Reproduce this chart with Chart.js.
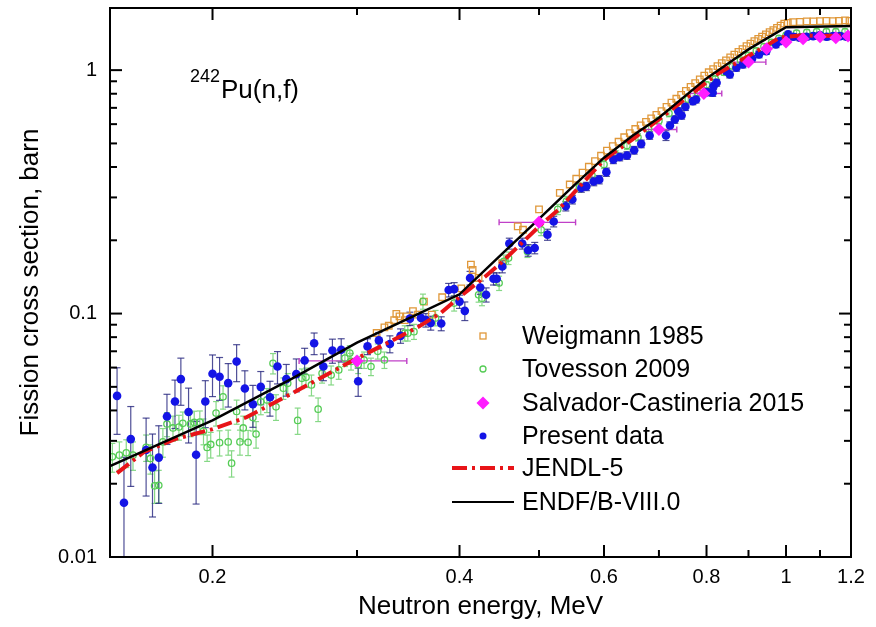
<!DOCTYPE html>
<html>
<head>
<meta charset="utf-8">
<script src="https://cdn.jsdelivr.net/npm/chart.js@4.4.1/dist/chart.umd.min.js"></script>
<style>
  html, body { margin: 0; padding: 0; background: #fff; }
  #wrap { width: 876px; height: 627px; }
</style>
</head>
<body>
<div id="wrap"><canvas id="c" width="876" height="627"></canvas></div>
<script>
// ---- data (energy in MeV, cross section in barn) ----

// Present data (blue dots) with +/- errors
var presE = [
  0.153, 0.156, 0.159, 0.166, 0.169, 0.172, 0.176, 0.180, 0.183, 0.187,
  0.191, 0.196, 0.200, 0.204, 0.209, 0.214, 0.219, 0.224, 0.229, 0.235,
  0.240, 0.246, 0.253, 0.259, 0.266, 0.273, 0.280, 0.287, 0.301, 0.309,
  0.319, 0.329, 0.339, 0.348, 0.359, 0.364, 0.369, 0.380, 0.388, 0.394,
  0.400, 0.406, 0.412, 0.424, 0.431, 0.440, 0.444, 0.451, 0.460, 0.477,
  0.485, 0.494, 0.512, 0.521, 0.539, 0.549, 0.563, 0.571, 0.583, 0.592,
  0.604, 0.616, 0.627, 0.640, 0.653, 0.666, 0.682, 0.714, 0.722, 0.732,
  0.739, 0.746, 0.754, 0.770, 0.777, 0.801, 0.814, 0.816, 0.823, 0.846,
  0.854, 0.870, 0.886, 0.909, 0.927, 0.946, 0.972, 0.984, 1.006, 1.021,
  1.040, 1.059, 1.079, 1.100, 1.121, 1.142, 1.164, 1.186
];
var presS = [
  0.0459, 0.0167, 0.0305, 0.0275, 0.0233, 0.0256, 0.0378, 0.0435, 0.0538, 0.0394,
  0.0263, 0.0435, 0.0566, 0.055, 0.0518, 0.0635, 0.0492, 0.0424, 0.05, 0.0453,
  0.0606, 0.0538, 0.0564, 0.0642, 0.0755, 0.0606, 0.0705, 0.071, 0.0527, 0.0733,
  0.0776, 0.075, 0.081, 0.0953, 0.096, 0.094, 0.0915, 0.091, 0.125, 0.126,
  0.112, 0.1026, 0.14, 0.128, 0.1195, 0.139, 0.139, 0.156, 0.194, 0.194,
  0.182, 0.186, 0.211, 0.239, 0.276, 0.294, 0.328, 0.333, 0.349, 0.355,
  0.381, 0.429, 0.44, 0.446, 0.469, 0.498, 0.539, 0.539, 0.592, 0.627,
  0.678, 0.651, 0.707, 0.746, 0.758, 0.812, 0.807, 0.859, 0.888, 0.99,
  0.96, 1.023, 1.055, 1.114, 1.16, 1.197, 1.276, 1.316, 1.402, 1.372,
  1.36, 1.372, 1.38, 1.39, 1.372, 1.38, 1.38, 1.372
];
var presErr = [
  0.014, 0.009, 0.011, 0.0097, 0.0087, 0.009, 0.0088, 0.0098, 0.0118, 0.01,
  0.0098, 0.0095, 0.011, 0.011, 0.0105, 0.011, 0.009, 0.0083, 0.0078, 0.0074,
  0.0092, 0.008, 0.0087, 0.0078, 0.0077, 0.0076, 0.008, 0.0078, 0.007, 0.0055,
  0.006, 0.006, 0.0055, 0.006, 0.006, 0.006, 0.006, 0.006, 0.008, 0.008,
  0.007, 0.009, 0.009, 0.008, 0.008, 0.008, 0.008, 0.009, 0.01, 0.01,
  0.01, 0.01, 0.011, 0.012, 0.012, 0.012, 0.013, 0.013, 0.014, 0.014,
  0.015, 0.016, 0.016, 0.016, 0.017, 0.018, 0.019, 0.025, 0.021, 0.022,
  0.023, 0.022, 0.024, 0.025, 0.025, 0.027, 0.027, 0.028, 0.029, 0.032,
  0.031, 0.033, 0.034, 0.035, 0.036, 0.037, 0.039, 0.04, 0.042, 0.041,
  0.041, 0.041, 0.041, 0.041, 0.041, 0.041, 0.041, 0.041
];

// Tovesson 2009 (green open circles) with +/- errors
var tovE = [
  0.151, 0.154, 0.157, 0.160, 0.166, 0.168, 0.170, 0.172, 0.174, 0.176,
  0.179, 0.182, 0.184, 0.188, 0.190, 0.193, 0.195, 0.197, 0.199, 0.202,
  0.204, 0.206, 0.209, 0.211, 0.214, 0.216, 0.218, 0.221, 0.224, 0.226,
  0.229, 0.233, 0.237, 0.239, 0.244, 0.247, 0.254, 0.257, 0.260, 0.264,
  0.269, 0.272, 0.279, 0.285, 0.290, 0.294, 0.295, 0.301, 0.306, 0.312,
  0.318, 0.324, 0.343, 0.346, 0.352, 0.361, 0.374, 0.394, 0.422, 0.426,
  0.447, 0.453, 0.459, 0.484, 0.503, 0.527,
  0.54, 0.56, 0.58, 0.60, 0.62, 0.64, 0.66, 0.68, 0.70, 0.72,
  0.74, 0.76, 0.78, 0.80, 0.82, 0.84, 0.86, 0.88, 0.90, 0.92,
  0.94, 0.96, 0.98, 1.00, 1.03, 1.06, 1.09, 1.12, 1.15, 1.18
];
var tovS = [
  0.0258, 0.0262, 0.0268, 0.0262, 0.0282, 0.0254, 0.0196, 0.0197, 0.0297, 0.0352,
  0.0339, 0.0342, 0.0354, 0.0352, 0.0357, 0.0358, 0.0329, 0.0282, 0.029, 0.039,
  0.0295, 0.0455, 0.0297, 0.0243, 0.0396, 0.0297, 0.0339, 0.0296, 0.0374, 0.032,
  0.0434, 0.0442, 0.0625, 0.0414, 0.0494, 0.0517, 0.0364, 0.0542, 0.0547, 0.0509,
  0.0405, 0.0568, 0.0559, 0.0587, 0.0656, 0.0688, 0.0636, 0.0617, 0.0645, 0.0606,
  0.07, 0.0645, 0.0831, 0.0831, 0.0843, 0.1122, 0.096, 0.1104, 0.1194, 0.1157,
  0.1334, 0.164, 0.169, 0.18, 0.221, 0.268,
  0.29, 0.33, 0.37, 0.41, 0.45, 0.49, 0.53, 0.575, 0.62, 0.665,
  0.71, 0.76, 0.81, 0.87, 0.92, 0.98, 1.04, 1.1, 1.15, 1.2,
  1.25, 1.3, 1.35, 1.39, 1.42, 1.43, 1.44, 1.44, 1.44, 1.44
];
var tovErr = [
  0.0035, 0.0035, 0.0035, 0.0035, 0.0035, 0.0035, 0.003, 0.003, 0.004, 0.004,
  0.004, 0.004, 0.004, 0.004, 0.004, 0.004, 0.004, 0.0035, 0.0035, 0.0045,
  0.0035, 0.005, 0.0035, 0.003, 0.0045, 0.0035, 0.004, 0.0035, 0.0045, 0.004,
  0.005, 0.005, 0.006, 0.005, 0.005, 0.005, 0.0045, 0.005, 0.005, 0.005,
  0.0045, 0.005, 0.005, 0.005, 0.005, 0.005, 0.005, 0.005, 0.005, 0.005,
  0.005, 0.005, 0.006, 0.006, 0.006, 0.008, 0.007, 0.008, 0.008, 0.008,
  0.009, 0.01, 0.01, 0.01, 0.012, 0.013,
  0.013, 0.014, 0.015, 0.016, 0.017, 0.018, 0.019, 0.02, 0.021, 0.022,
  0.023, 0.024, 0.025, 0.026, 0.027, 0.028, 0.029, 0.03, 0.031, 0.032,
  0.033, 0.034, 0.035, 0.036, 0.036, 0.036, 0.036, 0.036, 0.036, 0.036
];

// Weigmann 1985 (orange open squares)
var weigE = [
  0.317, 0.324, 0.328, 0.333, 0.335, 0.338, 0.343, 0.345, 0.351, 0.356,
  0.362, 0.370, 0.381, 0.402, 0.413, 0.415, 0.422, 0.451, 0.471, 0.478,
  0.500, 0.530,
  0.545, 0.555, 0.565, 0.575, 0.585, 0.595, 0.605, 0.615, 0.625, 0.635,
  0.645, 0.655, 0.665, 0.675, 0.685, 0.695, 0.705, 0.715, 0.725, 0.735,
  0.745, 0.755, 0.765, 0.775, 0.785, 0.795, 0.805, 0.815, 0.825, 0.835,
  0.845, 0.855, 0.865, 0.875, 0.885, 0.895, 0.905, 0.915, 0.925, 0.935,
  0.945, 0.955, 0.965, 0.975, 0.985, 0.995, 1.005, 1.02, 1.04, 1.06,
  1.08, 1.10, 1.12, 1.14, 1.16, 1.18, 1.195
];
var weigS = [
  0.0832, 0.0877, 0.0891, 0.0939, 0.0998, 0.0974, 0.094, 0.0974, 0.1023, 0.099,
  0.112, 0.099, 0.1167, 0.127, 0.159, 0.151, 0.14, 0.161, 0.228, 0.221,
  0.268, 0.313,
  0.339, 0.358, 0.379, 0.401, 0.423, 0.445, 0.467, 0.487, 0.508, 0.53,
  0.551, 0.573, 0.593, 0.613, 0.634, 0.655, 0.679, 0.706, 0.735, 0.763,
  0.792, 0.822, 0.853, 0.884, 0.916, 0.95, 0.98, 1.009, 1.039, 1.068,
  1.097, 1.128, 1.158, 1.189, 1.221, 1.254, 1.285, 1.315, 1.344, 1.373,
  1.402, 1.432, 1.461, 1.492, 1.523, 1.553, 1.565, 1.575, 1.58, 1.585,
  1.585, 1.59, 1.595, 1.59, 1.595, 1.6, 1.595
];

// Salvador-Castineria 2015 (magenta diamonds) with energy bins
var salvE = [0.3, 0.5, 0.7, 0.794, 0.9, 0.947, 1.0, 1.049, 1.1, 1.15, 1.19];
var salvS = [0.0639, 0.237, 0.57, 0.802, 1.079, 1.225, 1.304, 1.346, 1.372, 1.36, 1.38];
var salvDEm = [0.045, 0.053, 0.039, 0.03, 0.045, 0, 0, 0, 0, 0, 0];
var salvDEp = [0.045, 0.054, 0.036, 0.041, 0.045, 0, 0, 0, 0, 0, 0];

// evaluations
var jendlE = [0.153, 0.165, 0.18, 0.2, 0.22, 0.25, 0.3, 0.33, 0.356, 0.38, 0.4, 0.43, 0.45,
  0.5, 0.528, 0.6, 0.65, 0.7, 0.75, 0.823, 0.9, 0.95, 0.983, 1.05, 1.1, 1.2];
var jendlS = [0.0221, 0.027, 0.0305, 0.0335, 0.0375, 0.047, 0.0655, 0.077, 0.088, 0.101, 0.117, 0.142, 0.162,
  0.228, 0.267, 0.428, 0.52, 0.627, 0.752, 0.96, 1.144, 1.27, 1.363, 1.39, 1.38, 1.39];
var endfE = [0.15, 0.2, 0.25, 0.3, 0.35, 0.4, 0.45, 0.5, 0.55, 0.6, 0.65, 0.7, 0.75, 0.8,
  0.85, 0.9, 0.95, 1.0, 1.2];
var endfS = [0.0236, 0.0364, 0.054, 0.076, 0.097, 0.12, 0.175, 0.245, 0.333, 0.437, 0.538, 0.637, 0.773, 0.925,
  1.064, 1.217, 1.356, 1.5, 1.52];

// axes
var xTickVals = [0.2, 0.3, 0.4, 0.5, 0.6, 0.7, 0.8, 0.9, 1, 1.1, 1.2];
var xTickText = ['0.2', '', '0.4', '', '0.6', '', '0.8', '', '1', '', '1.2'];
var yTickVals = [0.01, 0.02, 0.03, 0.04, 0.05, 0.06, 0.07, 0.08, 0.09,
  0.1, 0.2, 0.3, 0.4, 0.5, 0.6, 0.7, 0.8, 0.9, 1];
var yTickText = ['0.01', '', '', '', '', '', '', '', '',
  '0.1', '', '', '', '', '', '', '', '', '1'];

var legendNames = ['Weigmann 1985', 'Tovesson 2009', 'Salvador-Castineria 2015',
  'Present data', 'JENDL-5', 'ENDF/B-VIII.0'];

var FONT = '"Liberation Sans", Arial, sans-serif';
var colWeig = '#e0983a', colTov = '#55cc55', colSalv = '#ff1cff', colPres = '#1414e6', colJendl = '#e81418';

function pts(xs, ys) {
  return xs.map(function(v, i) { return { x: v, y: ys[i] }; });
}

function seg(ctx, x1, y1, x2, y2) {
  ctx.beginPath(); ctx.moveTo(x1, y1); ctx.lineTo(x2, y2); ctx.stroke();
}

// vertical / horizontal error bars, under the markers
var errorBars = {
  id: 'errorBars',
  beforeDatasetsDraw: function(chart) {
    var ctx = chart.ctx, a = chart.chartArea, xs = chart.scales.x, ys = chart.scales.y;
    ctx.save();
    ctx.beginPath(); ctx.rect(a.left, a.top, a.right - a.left, a.bottom - a.top); ctx.clip();
    function vbars(E, S, err, color, cap) {
      ctx.strokeStyle = color; ctx.lineWidth = 1.2;
      for (var i = 0; i < E.length; i++) {
        var px = xs.getPixelForValue(E[i]);
        var lo = S[i] - err[i];
        var y1 = lo > 0 ? ys.getPixelForValue(lo) : a.bottom + 5;
        var y2 = ys.getPixelForValue(S[i] + err[i]);
        seg(ctx, px, y1, px, y2);
        seg(ctx, px - cap, y1, px + cap, y1);
        seg(ctx, px - cap, y2, px + cap, y2);
      }
    }
    vbars(tovE, tovS, tovErr, '#86d886', 3);
    vbars(presE, presS, presErr, 'rgba(35,35,125,0.8)', 3.5);
    ctx.strokeStyle = '#c040c8'; ctx.lineWidth = 1.4;
    for (var i = 0; i < salvE.length; i++) {
      if (!salvDEm[i] && !salvDEp[i]) continue;
      var py = ys.getPixelForValue(salvS[i]);
      var x1 = xs.getPixelForValue(salvE[i] - salvDEm[i]);
      var x2 = xs.getPixelForValue(salvE[i] + salvDEp[i]);
      seg(ctx, x1, py, x2, py);
      seg(ctx, x1, py - 3, x1, py + 3);
      seg(ctx, x2, py - 3, x2, py + 3);
    }
    ctx.restore();
  }
};

// frame with inward ticks on all four sides
var frame = {
  id: 'frame',
  afterDraw: function(chart) {
    var ctx = chart.ctx, a = chart.chartArea, xs = chart.scales.x, ys = chart.scales.y;
    ctx.save();
    ctx.strokeStyle = '#000'; ctx.lineWidth = 2;
    ctx.strokeRect(a.left, a.top, a.right - a.left, a.bottom - a.top);
    xTickVals.forEach(function(v, i) {
      var px = xs.getPixelForValue(v);
      var len = xTickText[i] ? 12 : 7;
      seg(ctx, px, a.bottom, px, a.bottom - len);
      seg(ctx, px, a.top, px, a.top + len);
    });
    yTickVals.forEach(function(v, i) {
      var py = ys.getPixelForValue(v);
      var len = yTickText[i] ? 12 : 7;
      seg(ctx, a.left, py, a.left + len, py);
      seg(ctx, a.right, py, a.right - len, py);
    });
    ctx.restore();
  }
};

// legend and reaction label
var legendBox = {
  id: 'legendBox',
  afterDraw: function(chart) {
    var ctx = chart.ctx;
    var sx = 483, tx = 522;
    var rows = [336, 369, 403, 436, 468, 502];
    ctx.save();
    ctx.fillStyle = '#000'; ctx.textBaseline = 'middle'; ctx.textAlign = 'left';
    ctx.font = '25px ' + FONT;
    legendNames.forEach(function(t, i) { ctx.fillText(t, tx, rows[i] + 1); });

    ctx.lineWidth = 1.3;
    ctx.strokeStyle = colWeig; ctx.strokeRect(sx - 3, rows[0] - 3, 6, 6);
    ctx.strokeStyle = colTov; ctx.beginPath(); ctx.arc(sx, rows[1], 3, 0, Math.PI * 2); ctx.stroke();
    ctx.fillStyle = colSalv; ctx.beginPath();
    ctx.moveTo(sx, rows[2] - 6.5); ctx.lineTo(sx + 6.5, rows[2]); ctx.lineTo(sx, rows[2] + 6.5); ctx.lineTo(sx - 6.5, rows[2]);
    ctx.closePath(); ctx.fill();
    ctx.fillStyle = colPres; ctx.beginPath(); ctx.arc(sx, rows[3], 3.5, 0, Math.PI * 2); ctx.fill();
    ctx.strokeStyle = colJendl; ctx.lineWidth = 4; ctx.setLineDash([15, 5, 3, 5]);
    seg(ctx, 452, rows[4], 514, rows[4]);
    ctx.setLineDash([]); ctx.strokeStyle = '#000'; ctx.lineWidth = 2;
    seg(ctx, 452, rows[5], 514, rows[5]);

    ctx.fillStyle = '#000'; ctx.textBaseline = 'alphabetic';
    ctx.font = '18px ' + FONT; ctx.fillText('242', 190, 82);
    ctx.font = '26px ' + FONT; ctx.fillText('Pu(n,f)', 221, 98);
    ctx.restore();
  }
};

new Chart(document.getElementById('c').getContext('2d'), {
  type: 'scatter',
  data: {
    datasets: [
      { label: 'Salvador-Castineria 2015', data: pts(salvE, salvS), order: 0,
        pointStyle: 'rectRot', pointRadius: 6.5, backgroundColor: colSalv, borderColor: colSalv, borderWidth: 0 },
      { label: 'ENDF/B-VIII.0', data: pts(endfE, endfS), order: 1, showLine: true,
        pointRadius: 0, borderColor: '#000', borderWidth: 2.5 },
      { label: 'JENDL-5', data: pts(jendlE, jendlS), order: 2, showLine: true,
        pointRadius: 0, borderColor: colJendl, borderWidth: 4, borderDash: [15, 5, 3, 5] },
      { label: 'Present data', data: pts(presE, presS), order: 3,
        pointStyle: 'circle', pointRadius: 4.3, backgroundColor: colPres, borderColor: colPres, borderWidth: 0 },
      { label: 'Tovesson 2009', data: pts(tovE, tovS), order: 4,
        pointStyle: 'circle', pointRadius: 3.2, backgroundColor: 'rgba(255,255,255,0)', borderColor: colTov, borderWidth: 1.3 },
      { label: 'Weigmann 1985', data: pts(weigE, weigS), order: 5,
        pointStyle: 'rect', pointRadius: 4.6, backgroundColor: 'rgba(255,255,255,0)', borderColor: colWeig, borderWidth: 1.3 }
    ]
  },
  options: {
    responsive: false,
    animation: false,
    devicePixelRatio: 1,
    events: [],
    layout: { padding: { top: 8, right: 25, bottom: 0, left: 0 } },
    plugins: { legend: { display: false }, tooltip: { enabled: false } },
    scales: {
      x: {
        type: 'logarithmic', min: 0.15, max: 1.2,
        afterBuildTicks: function(s) { s.ticks = xTickVals.map(function(v) { return { value: v }; }); },
        afterFit: function(s) { s.height = 70; s.paddingLeft = 0; s.paddingRight = 0; },
        grid: { display: false, drawTicks: false },
        border: { display: false },
        ticks: {
          autoSkip: false, maxRotation: 0, minRotation: 0, padding: 8, color: '#000',
          font: { family: FONT, size: 20 },
          callback: function(v, i) { return xTickText[i]; }
        },
        title: { display: true, text: 'Neutron energy, MeV', color: '#000',
          font: { family: FONT, size: 26 }, padding: { top: 0, bottom: 5 } }
      },
      y: {
        type: 'logarithmic', min: 0.01, max: 1.8,
        afterBuildTicks: function(s) { s.ticks = yTickVals.map(function(v) { return { value: v }; }); },
        afterFit: function(s) { s.width = 110; s.paddingTop = 0; s.paddingBottom = 0; },
        grid: { display: false, drawTicks: false },
        border: { display: false },
        ticks: {
          autoSkip: false, padding: 13, color: '#000',
          font: { family: FONT, size: 20 },
          callback: function(v, i) { return yTickText[i]; }
        },
        title: { display: true, text: 'Fission cross section, barn', color: '#000',
          font: { family: FONT, size: 26 }, padding: { top: 15, bottom: 0 } }
      }
    }
  },
  plugins: [errorBars, frame, legendBox]
});
</script>
</body>
</html>
